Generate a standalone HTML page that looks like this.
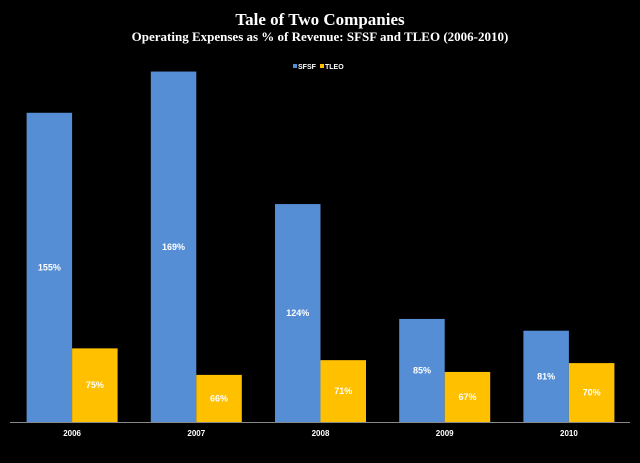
<!DOCTYPE html>
<html><head><meta charset="utf-8"><style>
body{margin:0;background:#000;width:640px;height:463px;overflow:hidden}
svg{display:block}
</style></head><body>
<svg width="640" height="463">
<rect width="640" height="463" fill="#000"/>
<text x="320" y="25" text-anchor="middle" fill="#fff" font-family="Liberation Serif, serif" font-weight="bold" font-size="17">Tale of Two Companies</text>
<text x="320" y="41" text-anchor="middle" fill="#fff" font-family="Liberation Serif, serif" font-weight="bold" font-size="13">Operating Expenses as % of Revenue: SFSF and TLEO (2006-2010)</text>
<g>
<rect x="293" y="64" width="4" height="4" fill="#558ed5"/>
<text x="298" y="69" fill="#fff" font-family="Liberation Sans, sans-serif" font-weight="bold" font-size="7">SFSF</text>
<rect x="320" y="64" width="4" height="4" fill="#ffc000"/>
<text x="325" y="69" fill="#fff" font-family="Liberation Sans, sans-serif" font-weight="bold" font-size="7">TLEO</text>
</g>
<g id="plot"></g>
<line x1="10" y1="422.5" x2="630" y2="422.5" stroke="#888" stroke-width="1"/>
</svg>
<script>
const categories=["2006","2007","2008","2009","2010"];
const sfsf=[155,169,124,85,81];
const tleo=[75,66,71,67,70];
const yMin=50, base=422, pxPer=2.945, left=10, band=124.2, barW=45.5;
const ns="http://www.w3.org/2000/svg";
const g=document.getElementById('plot');
function y(v){return base-(v-yMin)*pxPer;}
function xc(i){return left+band*(i+0.5);}
function mk(tag,attrs){const e=document.createElementNS(ns,tag);for(const k in attrs)e.setAttribute(k,attrs[k]);g.appendChild(e);return e;}
function bar(v,i,off,color,name){
  const x=xc(i)+off, top=y(v);
  const r=mk('rect',{x:x,y:top,width:barW,height:base-top,fill:color});
  
  
  const t=mk('text',{x:x+barW/2,y:(top+base)/2+3,'text-anchor':'middle',fill:'#fff','font-family':'Liberation Sans, sans-serif','font-weight':'bold','font-size':'9'});
  t.textContent=v+'%';
  
  
}
categories.forEach((c,i)=>{
  bar(sfsf[i],i,-barW,'#558ed5','sfsf');
  bar(tleo[i],i,0,'#ffc000','tleo');
  const t=mk('text',{x:xc(i),y:436,'text-anchor':'middle',fill:'#fff','font-family':'Liberation Sans, sans-serif','font-weight':'bold','font-size':'8'});
  t.textContent=c;
  
  
});
</script>
</body></html>
